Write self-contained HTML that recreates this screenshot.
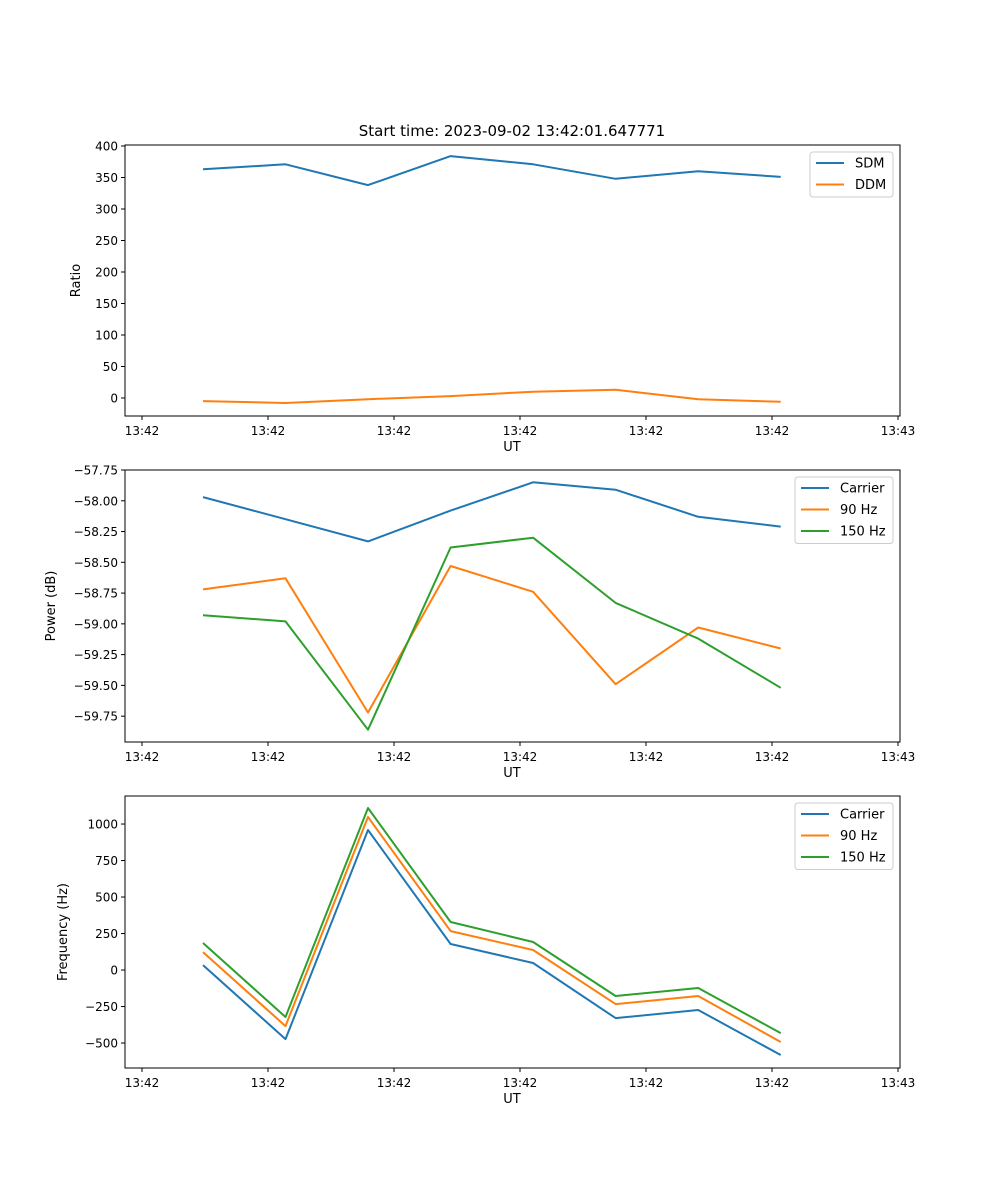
<!DOCTYPE html>
<html><head><meta charset="utf-8"><style>
html,body{margin:0;padding:0;background:#fff;}
svg{display:block;font-family:"DejaVu Sans","Liberation Sans",sans-serif;}
</style></head><body>
<svg id="fig" width="1000" height="1200" xmlns="http://www.w3.org/2000/svg">
<rect width="1000" height="1200" fill="#fff"/>
<text x="512" y="136" font-size="15" text-anchor="middle">Start time: 2023-09-02 13:42:01.647771</text>
</svg>
<script>
const times = [4.84, 11.39, 17.94, 24.49, 31.04, 37.59, 44.14, 50.69];
const xTicks = [0, 10, 20, 30, 40, 50, 60];
const xTickLabels = ["13:42","13:42","13:42","13:42","13:42","13:42","13:43"];
const sdm = [363, 371, 338, 384, 371, 348, 360, 351];
const ddm = [-5, -8, -2, 3, 10, 13, -2, -6];
const ratioTicks = [0, 50, 100, 150, 200, 250, 300, 350, 400];
const pwrCarrier = [-57.97, -58.15, -58.33, -58.08, -57.85, -57.91, -58.13, -58.21];
const pwr90 = [-58.72, -58.63, -59.72, -58.53, -58.74, -59.49, -59.03, -59.20];
const pwr150 = [-58.93, -58.98, -59.86, -58.38, -58.30, -58.83, -59.12, -59.52];
const powerTicks = [-59.75, -59.5, -59.25, -59.0, -58.75, -58.5, -58.25, -58.0, -57.75];
const powerTickLabels = ["−59.75","−59.50","−59.25","−59.00","−58.75","−58.50","−58.25","−58.00","−57.75"];
const frqCarrier = [34, -473, 959, 178, 48, -329, -274, -582];
const frq90 = [123, -384, 1048, 267, 137, -233, -178, -493];
const frq150 = [185, -322, 1110, 329, 192, -178, -123, -432];
const freqTicks = [-500, -250, 0, 250, 500, 750, 1000];
const freqTickLabels = ["−500","−250","0","250","500","750","1000"];

const NS = "http://www.w3.org/2000/svg";
const svg = document.getElementById('fig');
const X0 = 125, X1 = 900;
const xScale = t => 142 + t * 12.6;
function mk(tag, attrs, parent) {
  const e = document.createElementNS(NS, tag);
  for (const k in attrs) e.setAttribute(k, attrs[k]);
  (parent || svg).appendChild(e);
  return e;
}
function panel(name, top, bot, ymin, ymax, yTicks, yLabels, ylabel, series, legend) {
  const g = mk('g', {});
  
  
  const ys = v => bot - (v - ymin) / (ymax - ymin) * (bot - top);
  series.forEach(s => {
    const pts = s.vals.map((v, i) => xScale(times[i]).toFixed(1) + ',' + ys(v).toFixed(1)).join(' ');
    const pl = mk('polyline', {points: pts, fill: 'none', stroke: s.color, 'stroke-width': 2, 'stroke-linejoin': 'round'}, g);
    
    
  });
  const fr = mk('rect', {x: X0, y: top, width: X1 - X0, height: bot - top, fill: 'none', stroke: '#000', 'stroke-width': 1}, g);
  
  
  xTicks.forEach((t, i) => {
    const x = xScale(t);
    mk('line', {x1: x, x2: x, y1: bot, y2: bot + 4, stroke: '#000'}, g);
    const tx = mk('text', {x: x, y: bot + 19, 'font-size': 12, 'text-anchor': 'middle'}, g);
    tx.textContent = xTickLabels[i];
    
    
  });
  const xl = mk('text', {x: 512, y: bot + 35, 'font-size': 13, 'text-anchor': 'middle'}, g);
  xl.textContent = 'UT';
  
  
  yTicks.forEach((v, i) => {
    const y = ys(v);
    mk('line', {x1: X0 - 4, x2: X0, y1: y, y2: y, stroke: '#000'}, g);
    const tx = mk('text', {x: X0 - 7, y: y + 4.5, 'font-size': 12, 'text-anchor': 'end'}, g);
    tx.textContent = yLabels[i];
    
    
  });
  const lx = ylabel.x, ly = (top + bot) / 2;
  const yl = mk('text', {x: lx, y: ly, 'font-size': 13, 'text-anchor': 'middle', transform: `rotate(-90 ${lx} ${ly})`}, g);
  yl.textContent = ylabel.text;
  
  
  const lg = mk('g', {}, g);
  
  
  mk('rect', {x: legend.x, y: top + 7, width: legend.w, height: 2 + series.length * 21.5, rx: 3, fill: '#fff', stroke: '#ccc'}, lg);
  series.forEach((s, i) => {
    const y = top + 18 + i * 21.5;
    mk('line', {x1: legend.x + 6, x2: legend.x + 34, y1: y, y2: y, stroke: s.color, 'stroke-width': 2}, lg);
    const t = mk('text', {x: legend.x + 45, y: y + 4.5, 'font-size': 13}, lg);
    t.textContent = s.label;
    
    
  });
}
const B = '#1f77b4', O = '#ff7f0e', G = '#2ca02c';
panel('ratio', 145, 416, -28.6, 400 + 1.6, ratioTicks, ratioTicks.map(String), {x: 80, text: 'Ratio'},
  [{key: 'sdm', label: 'SDM', vals: sdm, color: B}, {key: 'ddm', label: 'DDM', vals: ddm, color: O}], {x: 810, w: 83});
panel('power', 470, 742, -59.96, -57.75, powerTicks, powerTickLabels, {x: 55, text: 'Power (dB)'},
  [{key: 'carrier', label: 'Carrier', vals: pwrCarrier, color: B}, {key: 'hz90', label: '90 Hz', vals: pwr90, color: O}, {key: 'hz150', label: '150 Hz', vals: pwr150, color: G}], {x: 795, w: 98});
panel('frequency', 796, 1068, -671, 1192, freqTicks, freqTickLabels, {x: 67, text: 'Frequency (Hz)'},
  [{key: 'carrier', label: 'Carrier', vals: frqCarrier, color: B}, {key: 'hz90', label: '90 Hz', vals: frq90, color: O}, {key: 'hz150', label: '150 Hz', vals: frq150, color: G}], {x: 795, w: 98});
</script>
</body></html>
